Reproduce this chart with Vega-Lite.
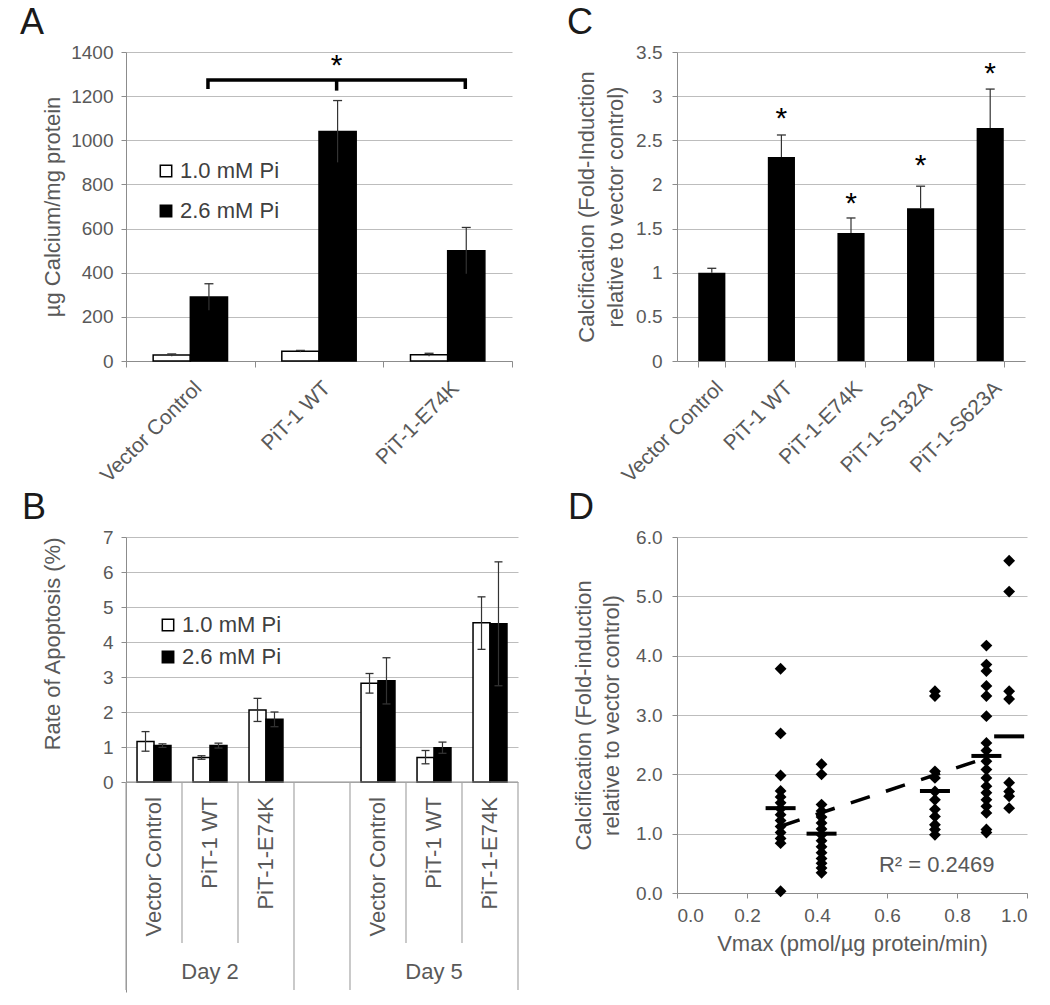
{
  "$schema": "https://vega.github.io/schema/vega-lite/v6.json",
  "background": "white",
  "padding": {"left": 20, "top": 5, "right": 5, "bottom": 5},
  "config": {
    "font": "Liberation Sans",
    "view": {"stroke": null},
    "axis": {
      "labelFont": "Liberation Sans", "titleFont": "Liberation Sans",
      "labelColor": "#595959", "titleColor": "#595959",
      "labelFontSize": 19, "titleFontSize": 22, "titleFontWeight": "normal",
      "domainColor": "#8c8c8c", "tickColor": "#8c8c8c", "gridColor": "#bdbdbd",
      "tickSize": 5
    },
    "tick": {"opacity": 1},
    "title": {"fontSize": 36, "fontWeight": "normal", "anchor": "start", "frame": "group", "color": "#1a1a1a", "font": "Liberation Sans", "offset": 1},
    "legend": {"labelFont": "Liberation Sans"}
  },
  "bounds": "flush",
  "columns": 2,
  "spacing": {"column": 159, "row": 176},
  "resolve": {
    "scale": {"x": "independent", "y": "independent", "fill": "independent", "xOffset": "independent"},
    "axis": {"x": "independent", "y": "independent"},
    "legend": {"fill": "independent"}
  },
  "concat": [
    {
      "width": 386, "height": 309,
      "title": {"text": "A", "dx": -106},
      "data": {"values": [
        {"cat": "Vector Control", "pi": "1.0 mM Pi", "v": 27, "lo": 22, "hi": 32},
        {"cat": "Vector Control", "pi": "2.6 mM Pi", "v": 290, "lo": 230, "hi": 350},
        {"cat": "PiT-1 WT", "pi": "1.0 mM Pi", "v": 44, "lo": 40, "hi": 48},
        {"cat": "PiT-1 WT", "pi": "2.6 mM Pi", "v": 1040, "lo": 900, "hi": 1180},
        {"cat": "PiT-1-E74K", "pi": "1.0 mM Pi", "v": 28, "lo": 21, "hi": 35},
        {"cat": "PiT-1-E74K", "pi": "2.6 mM Pi", "v": 500, "lo": 395, "hi": 605}
      ]},
      "encoding": {
        "x": {"field": "cat", "type": "nominal", "sort": ["Vector Control", "PiT-1 WT", "PiT-1-E74K"],
          "scale": {"domain": ["Vector Control", "PiT-1 WT", "PiT-1-E74K"], "paddingInner": 0, "paddingOuter": 0},
          "axis": {"title": null, "labelAngle": -45, "labelFontSize": 21, "labelPadding": 10, "tickBand": "extent", "tickSize": 6}}
      },
      "layer": [
        {
          "mark": {"type": "bar", "stroke": "black", "strokeWidth": 1.5},
          "encoding": {
            "xOffset": {"field": "pi", "type": "nominal", "scale": {"paddingInner": 0, "paddingOuter": 0.73}},
            "y": {"field": "v", "type": "quantitative", "scale": {"domain": [0, 1400], "nice": false},
              "axis": {"title": "µg Calcium/mg protein", "values": [0, 200, 400, 600, 800, 1000, 1200, 1400], "format": "d", "grid": true, "labelPadding": 8, "titlePadding": 6}},
            "fill": {"field": "pi", "type": "nominal",
              "scale": {"domain": ["1.0 mM Pi", "2.6 mM Pi"], "range": ["white", "black"]},
              "legend": {"title": null, "orient": "none", "legendX": 29, "legendY": 108, "symbolType": "square", "symbolSize": 130,
                "symbolStrokeColor": "black", "symbolStrokeWidth": 1.5, "labelFontSize": 22, "labelColor": "#404040",
                "rowPadding": 18, "labelOffset": 3, "padding": 0}}
          }
        },
        {
          "mark": {"type": "rule", "color": "#333333", "strokeWidth": 1.2},
          "encoding": {
            "xOffset": {"field": "pi", "type": "nominal", "scale": {"paddingInner": 0, "paddingOuter": 0.73}},
            "y": {"field": "lo", "type": "quantitative"},
            "y2": {"field": "hi"}
          }
        },
        {
          "mark": {"type": "tick", "orient": "horizontal", "size": 9, "thickness": 1.3, "color": "#333333"},
          "encoding": {
            "xOffset": {"field": "pi", "type": "nominal", "scale": {"paddingInner": 0, "paddingOuter": 0.73}},
            "y": {"field": "hi", "type": "quantitative"}
          }
        },
        {
          "data": {"values": [
            {"seg": "a", "cat": "Vector Control", "v": 1232, "o": 1},
            {"seg": "a", "cat": "Vector Control", "v": 1273, "o": 2},
            {"seg": "a", "cat": "PiT-1-E74K", "v": 1273, "o": 3},
            {"seg": "a", "cat": "PiT-1-E74K", "v": 1232, "o": 4},
            {"seg": "b", "cat": "PiT-1 WT", "v": 1273, "o": 1},
            {"seg": "b", "cat": "PiT-1 WT", "v": 1225, "o": 2}
          ]},
          "mark": {"type": "line", "color": "black", "strokeWidth": 3.5},
          "encoding": {
            "x": {"field": "cat", "type": "nominal", "bandPosition": 0.637},
            "y": {"field": "v", "type": "quantitative"},
            "detail": {"field": "seg"},
            "order": {"field": "o"}
          }
        },
        {
          "data": {"values": [{"cat": "PiT-1 WT", "v": 1335, "s": "*"}]},
          "mark": {"type": "text", "fontSize": 30, "baseline": "middle", "color": "black"},
          "encoding": {
            "x": {"field": "cat", "type": "nominal", "bandPosition": 0.637},
            "y": {"field": "v", "type": "quantitative"},
            "text": {"field": "s"}
          }
        }
      ]
    },
    {
      "width": 348, "height": 309,
      "title": {"text": "C", "dx": -110},
      "layer": [
        {
          "data": {"values": [
            {"cat": "Vector Control", "v": 1.0, "hi": 1.05},
            {"cat": "PiT-1 WT", "v": 2.31, "hi": 2.56},
            {"cat": "PiT-1-E74K", "v": 1.45, "hi": 1.62},
            {"cat": "PiT-1-S132A", "v": 1.73, "hi": 1.98},
            {"cat": "PiT-1-S623A", "v": 2.64, "hi": 3.08}
          ]},
          "mark": {"type": "bar", "color": "black"},
          "encoding": {
            "x": {"field": "cat", "type": "nominal",
              "scale": {"domain": ["Vector Control", "PiT-1 WT", "PiT-1-E74K", "PiT-1-S132A", "PiT-1-S623A"], "paddingInner": 0.61, "paddingOuter": 0.305},
              "axis": {"title": null, "labelAngle": -45, "labelFontSize": 21, "labelPadding": 10, "tickBand": "extent", "tickSize": 6}},
            "y": {"field": "v", "type": "quantitative", "scale": {"domain": [0, 3.5], "nice": false},
              "axis": {"title": ["Calcification (Fold-Induction", "relative to vector control)"], "titleLineHeight": 29,
                "values": [0, 0.5, 1, 1.5, 2, 2.5, 3, 3.5], "format": "~g", "grid": true, "labelPadding": 10, "titlePadding": 8}}
          }
        },
        {
          "data": {"values": [
            {"cat": "Vector Control", "v": 1.0, "hi": 1.05},
            {"cat": "PiT-1 WT", "v": 2.31, "hi": 2.56},
            {"cat": "PiT-1-E74K", "v": 1.45, "hi": 1.62},
            {"cat": "PiT-1-S132A", "v": 1.73, "hi": 1.98},
            {"cat": "PiT-1-S623A", "v": 2.64, "hi": 3.08}
          ]},
          "mark": {"type": "rule", "color": "#333333", "strokeWidth": 1.2},
          "encoding": {"x": {"field": "cat", "type": "nominal"}, "y": {"field": "v", "type": "quantitative"}, "y2": {"field": "hi"}}
        },
        {
          "data": {"values": [
            {"cat": "Vector Control", "v": 1.0, "hi": 1.05},
            {"cat": "PiT-1 WT", "v": 2.31, "hi": 2.56},
            {"cat": "PiT-1-E74K", "v": 1.45, "hi": 1.62},
            {"cat": "PiT-1-S132A", "v": 1.73, "hi": 1.98},
            {"cat": "PiT-1-S623A", "v": 2.64, "hi": 3.08}
          ]},
          "mark": {"type": "tick", "orient": "horizontal", "size": 9, "thickness": 1.3, "color": "#333333"},
          "encoding": {"x": {"field": "cat", "type": "nominal"}, "y": {"field": "hi", "type": "quantitative"}}
        },
        {
          "data": {"values": [
            {"cat": "PiT-1 WT", "v": 2.74, "s": "*"},
            {"cat": "PiT-1-E74K", "v": 1.78, "s": "*"},
            {"cat": "PiT-1-S132A", "v": 2.21, "s": "*"},
            {"cat": "PiT-1-S623A", "v": 3.25, "s": "*"}
          ]},
          "mark": {"type": "text", "fontSize": 30, "baseline": "middle", "color": "black"},
          "encoding": {"x": {"field": "cat", "type": "nominal"}, "y": {"field": "v", "type": "quantitative"}, "text": {"field": "s"}}
        }
      ]
    },
    {
      "width": 392, "height": 455,
      "title": {"text": "B", "dx": -104},
      "encoding": {
        "x": {"field": "cat", "type": "nominal",
          "scale": {"domain": ["D2|Vector Control", "D2|PiT-1 WT", "D2|PiT-1-E74K", "gap", "D5|Vector Control", "D5|PiT-1 WT", "D5|PiT-1-E74K"], "paddingInner": 0, "paddingOuter": 0},
          "axis": null}
      },
      "layer": [
        {
          "data": {"values": [
            {"cat": "D2|Vector Control", "pi": "1.0 mM Pi", "v": 1.16, "lo": 0.88, "hi": 1.44},
            {"cat": "D2|Vector Control", "pi": "2.6 mM Pi", "v": 1.04, "lo": 0.99, "hi": 1.09},
            {"cat": "D2|PiT-1 WT", "pi": "1.0 mM Pi", "v": 0.70, "lo": 0.65, "hi": 0.75},
            {"cat": "D2|PiT-1 WT", "pi": "2.6 mM Pi", "v": 1.04, "lo": 0.97, "hi": 1.11},
            {"cat": "D2|PiT-1-E74K", "pi": "1.0 mM Pi", "v": 2.06, "lo": 1.73, "hi": 2.39},
            {"cat": "D2|PiT-1-E74K", "pi": "2.6 mM Pi", "v": 1.79, "lo": 1.58, "hi": 2.0},
            {"cat": "D5|Vector Control", "pi": "1.0 mM Pi", "v": 2.82, "lo": 2.54, "hi": 3.1},
            {"cat": "D5|Vector Control", "pi": "2.6 mM Pi", "v": 2.89, "lo": 2.23, "hi": 3.55},
            {"cat": "D5|PiT-1 WT", "pi": "1.0 mM Pi", "v": 0.70, "lo": 0.52, "hi": 0.9},
            {"cat": "D5|PiT-1 WT", "pi": "2.6 mM Pi", "v": 0.98, "lo": 0.82, "hi": 1.14},
            {"cat": "D5|PiT-1-E74K", "pi": "1.0 mM Pi", "v": 4.55, "lo": 3.79, "hi": 5.29},
            {"cat": "D5|PiT-1-E74K", "pi": "2.6 mM Pi", "v": 4.52, "lo": 2.75, "hi": 6.29}
          ]},
          "encoding": {
            "xOffset": {"field": "pi", "type": "nominal", "scale": {"paddingInner": 0, "paddingOuter": 0.65}}
          },
          "layer": [
            {
              "mark": {"type": "bar", "stroke": "black", "strokeWidth": 1.5},
              "encoding": {
                "y": {"field": "v", "type": "quantitative", "scale": {"domain": [-6, 7], "nice": false, "zero": false},
                  "axis": {"title": "Rate of Apoptosis (%)", "titleAnchor": "end", "values": [0, 1, 2, 3, 4, 5, 6, 7], "grid": true, "labelPadding": 8, "titlePadding": 38}},
                "fill": {"field": "pi", "type": "nominal",
                  "scale": {"domain": ["1.0 mM Pi", "2.6 mM Pi"], "range": ["white", "black"]},
                  "legend": {"title": null, "orient": "none", "legendX": 31, "legendY": 77, "symbolType": "square", "symbolSize": 130,
                    "symbolStrokeColor": "black", "symbolStrokeWidth": 1.5, "labelFontSize": 22, "labelColor": "#404040",
                    "rowPadding": 10, "labelOffset": 3, "padding": 0}}
              }
            },
            {
              "mark": {"type": "rule", "color": "#333333", "strokeWidth": 1.2},
              "encoding": {"y": {"field": "lo", "type": "quantitative"}, "y2": {"field": "hi"}}
            },
            {
              "mark": {"type": "tick", "orient": "horizontal", "size": 8, "thickness": 1.3, "color": "#333333"},
              "encoding": {"y": {"field": "hi", "type": "quantitative"}}
            },
            {
              "mark": {"type": "tick", "orient": "horizontal", "size": 8, "thickness": 1.3, "color": "#333333"},
              "encoding": {"y": {"field": "lo", "type": "quantitative"}}
            }
          ]
        },
        {
          "data": {"values": [{"base": 0}]},
          "mark": {"type": "rule", "color": "#8c8c8c", "strokeWidth": 1},
          "encoding": {"x": null, "y": {"field": "base", "type": "quantitative"}}
        },
        {
          "data": {"values": [
            {"cat": "D2|Vector Control", "len": -5.94},
            {"cat": "D2|PiT-1 WT", "len": -4.6},
            {"cat": "D2|PiT-1-E74K", "len": -4.6},
            {"cat": "gap", "len": -5.94},
            {"cat": "D5|Vector Control", "len": -5.94},
            {"cat": "D5|PiT-1 WT", "len": -4.6},
            {"cat": "D5|PiT-1-E74K", "len": -4.6}
          ]},
          "mark": {"type": "rule", "color": "#a6a6a6", "strokeWidth": 1.2},
          "encoding": {
            "x": {"field": "cat", "type": "nominal", "bandPosition": 0},
            "y": {"field": "len", "type": "quantitative"},
            "y2": {"datum": 0}
          }
        },
        {
          "data": {"values": [{"cat": "D5|PiT-1-E74K", "len": -5.94}]},
          "mark": {"type": "rule", "color": "#a6a6a6", "strokeWidth": 1.2},
          "encoding": {
            "x": {"field": "cat", "type": "nominal", "bandPosition": 1},
            "y": {"field": "len", "type": "quantitative"},
            "y2": {"datum": 0}
          }
        },
        {
          "data": {"values": [
            {"cat": "D2|Vector Control", "lab": "Vector Control", "p": -0.43},
            {"cat": "D2|PiT-1 WT", "lab": "PiT-1 WT", "p": -0.43},
            {"cat": "D2|PiT-1-E74K", "lab": "PiT-1-E74K", "p": -0.43},
            {"cat": "D5|Vector Control", "lab": "Vector Control", "p": -0.43},
            {"cat": "D5|PiT-1 WT", "lab": "PiT-1 WT", "p": -0.43},
            {"cat": "D5|PiT-1-E74K", "lab": "PiT-1-E74K", "p": -0.43}
          ]},
          "mark": {"type": "text", "angle": 270, "align": "right", "baseline": "middle", "fontSize": 22, "color": "#595959"},
          "encoding": {
            "y": {"field": "p", "type": "quantitative"},
            "text": {"field": "lab"}
          }
        },
        {
          "data": {"values": [
            {"cat": "D2|PiT-1 WT", "lab": "Day 2", "p": -5.43},
            {"cat": "D5|PiT-1 WT", "lab": "Day 5", "p": -5.43}
          ]},
          "mark": {"type": "text", "align": "center", "baseline": "middle", "fontSize": 22, "color": "#595959"},
          "encoding": {
            "y": {"field": "p", "type": "quantitative"},
            "text": {"field": "lab"}
          }
        }
      ]
    },
    {
      "width": 350, "height": 356,
      "title": {"text": "D", "dx": -109},
      "layer": [
        {
          "data": {"values": [
            {"x": 0.296, "y": 3.78}, {"x": 0.296, "y": 2.69}, {"x": 0.296, "y": 1.98}, {"x": 0.296, "y": 1.72},
            {"x": 0.296, "y": 1.62}, {"x": 0.296, "y": 1.52}, {"x": 0.296, "y": 1.42}, {"x": 0.296, "y": 1.32},
            {"x": 0.296, "y": 1.22}, {"x": 0.296, "y": 1.12}, {"x": 0.296, "y": 1.02}, {"x": 0.296, "y": 0.92},
            {"x": 0.296, "y": 0.84}, {"x": 0.296, "y": 0.03},
            {"x": 0.413, "y": 2.17}, {"x": 0.413, "y": 2.0}, {"x": 0.413, "y": 1.49}, {"x": 0.413, "y": 1.38},
            {"x": 0.413, "y": 1.28}, {"x": 0.413, "y": 1.18}, {"x": 0.413, "y": 1.08}, {"x": 0.413, "y": 0.98},
            {"x": 0.413, "y": 0.88}, {"x": 0.413, "y": 0.78}, {"x": 0.413, "y": 0.68}, {"x": 0.413, "y": 0.58},
            {"x": 0.413, "y": 0.5}, {"x": 0.413, "y": 0.42}, {"x": 0.413, "y": 0.34},
            {"x": 0.737, "y": 3.4}, {"x": 0.737, "y": 3.32}, {"x": 0.737, "y": 2.05}, {"x": 0.737, "y": 1.94},
            {"x": 0.737, "y": 1.71}, {"x": 0.737, "y": 1.57}, {"x": 0.737, "y": 1.41}, {"x": 0.737, "y": 1.29},
            {"x": 0.737, "y": 1.15}, {"x": 0.737, "y": 1.07}, {"x": 0.737, "y": 0.98},
            {"x": 0.884, "y": 4.17}, {"x": 0.884, "y": 3.85}, {"x": 0.884, "y": 3.74}, {"x": 0.884, "y": 3.49},
            {"x": 0.884, "y": 3.32}, {"x": 0.884, "y": 2.98}, {"x": 0.884, "y": 2.53}, {"x": 0.884, "y": 2.4},
            {"x": 0.884, "y": 2.22}, {"x": 0.884, "y": 2.08}, {"x": 0.884, "y": 1.94}, {"x": 0.884, "y": 1.8},
            {"x": 0.884, "y": 1.69}, {"x": 0.884, "y": 1.57}, {"x": 0.884, "y": 1.46}, {"x": 0.884, "y": 1.35},
            {"x": 0.884, "y": 1.07}, {"x": 0.884, "y": 1.02},
            {"x": 0.949, "y": 5.6}, {"x": 0.949, "y": 5.08}, {"x": 0.949, "y": 3.4}, {"x": 0.949, "y": 3.27},
            {"x": 0.949, "y": 1.86}, {"x": 0.949, "y": 1.71}, {"x": 0.949, "y": 1.63}, {"x": 0.949, "y": 1.43}
          ]},
          "mark": {"type": "point", "shape": "diamond", "filled": true, "size": 140, "color": "black", "opacity": 1},
          "encoding": {
            "x": {"field": "x", "type": "quantitative", "scale": {"domain": [0, 1], "nice": false},
              "axis": {"title": "Vmax (pmol/µg protein/min)", "values": [0, 0.2, 0.4, 0.6, 0.8, 1.0], "format": ".1f", "grid": false, "labelPadding": 8, "titlePadding": 8}},
            "y": {"field": "y", "type": "quantitative", "scale": {"domain": [0, 6], "nice": false},
              "axis": {"title": ["Calcification (Fold-induction", "relative to vector control)"], "titleLineHeight": 28,
                "values": [0, 1, 2, 3, 4, 5, 6], "format": ".1f", "grid": true, "labelPadding": 10, "titlePadding": 12}}
          }
        },
        {
          "data": {"values": [
            {"x": 0.296, "y": 1.43}, {"x": 0.413, "y": 1.0}, {"x": 0.737, "y": 1.72}, {"x": 0.884, "y": 2.31}, {"x": 0.949, "y": 2.64}
          ]},
          "mark": {"type": "tick", "orient": "horizontal", "size": 30, "thickness": 4, "color": "black", "opacity": 1},
          "encoding": {"x": {"field": "x", "type": "quantitative"}, "y": {"field": "y", "type": "quantitative"}}
        },
        {
          "data": {"values": [{"x": 0.296, "y": 1.125}, {"x": 0.9, "y": 2.31}]},
          "mark": {"type": "line", "color": "black", "strokeWidth": 3.5, "strokeDash": [20, 17]},
          "encoding": {"x": {"field": "x", "type": "quantitative"}, "y": {"field": "y", "type": "quantitative"}}
        },
        {
          "data": {"values": [{"x": 0.742, "y": 0.48, "t": "R² = 0.2469"}]},
          "mark": {"type": "text", "fontSize": 22, "color": "#595959", "align": "center", "baseline": "middle"},
          "encoding": {"x": {"field": "x", "type": "quantitative"}, "y": {"field": "y", "type": "quantitative"}, "text": {"field": "t"}}
        }
      ]
    }
  ]
}
